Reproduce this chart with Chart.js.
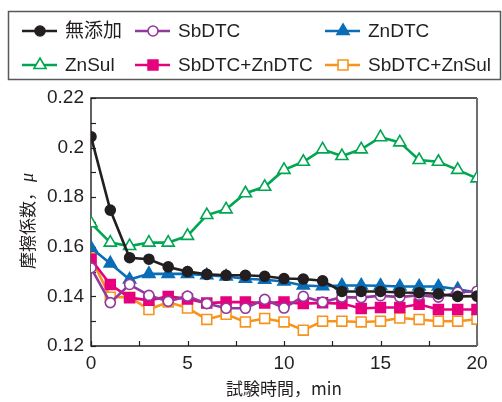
<!DOCTYPE html>
<html>
<head>
<meta charset="utf-8">
<script src="https://cdn.jsdelivr.net/npm/chart.js@4"></script>
<style>
  html,body{margin:0;padding:0;background:#fff;}
  #wrap{position:relative;width:502px;height:402px;}
</style>
</head>
<body>
<div id="wrap"><canvas id="fric"></canvas></div>
<script>
// ---- data ----
const minutes=[0,1,2,3,4,5,6,7,8,9,10,11,12,13,14,15,16,17,18,19,20];
const seriesNames=['無添加','SbDTC','ZnDTC','ZnSul','SbDTC+ZnDTC','SbDTC+ZnSul'];
const muNone=[0.2044,0.1748,0.1556,0.1550,0.1519,0.1500,0.1489,0.1485,0.1485,0.1481,0.1472,0.1470,0.1463,0.1420,0.1420,0.1420,0.1416,0.1415,0.1410,0.1400,0.1401];
const muSb=[0.1515,0.1375,0.1448,0.1404,0.1380,0.1401,0.1371,0.1352,0.1352,0.1388,0.1353,0.1400,0.1377,0.1397,0.1395,0.1403,0.1397,0.1405,0.1397,0.1417,0.1421];
const muZn=[0.1596,0.1533,0.1468,0.1491,0.1491,0.1491,0.1485,0.1480,0.1471,0.1467,0.1460,0.1444,0.1441,0.1444,0.1444,0.1443,0.1440,0.1440,0.1440,0.1429,0.1415];
const muZnSul=[0.1695,0.1617,0.1603,0.1617,0.1617,0.1644,0.1728,0.1751,0.1816,0.1842,0.1910,0.1943,0.1993,0.1966,0.1993,0.2042,0.2021,0.1950,0.1943,0.1910,0.1876];
const muSbZn=[0.1550,0.1448,0.1395,0.1384,0.1400,0.1390,0.1373,0.1377,0.1377,0.1373,0.1377,0.1371,0.1374,0.1371,0.1351,0.1355,0.1355,0.1368,0.1347,0.1347,0.1347];
const muSbZnSul=[0.1555,0.1397,0.1397,0.1347,0.1377,0.1353,0.1307,0.1328,0.1297,0.1311,0.1297,0.1264,0.1300,0.1300,0.1297,0.1300,0.1313,0.1307,0.1300,0.1300,0.1308];
const xTicks=[0,5,10,15,20];
const yTicks=[0.12,0.14,0.16,0.18,0.2,0.22];

const C_BLACK='#231f20',C_PURPLE='#93399b',C_BLUE='#0a6db7',C_GREEN='#00a651',C_PINK='#e6007e',C_ORANGE='#f7941d';
const LATIN='"Liberation Sans", Arial, "Noto Sans CJK JP"';
const CJK='"Noto Sans CJK JP", "Liberation Sans"';

function ds(label,data,color,style,filled,r){
  return {label,data:data.map((v,i)=>({x:minutes[i],y:v})),borderColor:color,borderWidth:2.6,
    pointStyle:style,pointRadius:r,pointHoverRadius:r,pointBorderWidth:1.6,pointBorderColor:color,
    pointBackgroundColor:filled?color:'#fff',tension:0,fill:false};
}

// frame, inward ticks, titles and legend
const decor={
  id:'decor',
  beforeDatasetsDraw(chart){
    const {ctx,chartArea:a,scales:{x,y}}=chart;
    ctx.save();
    ctx.strokeStyle=C_BLACK;ctx.lineWidth=1.2;
    for(let v=0.12;v<=0.2201;v+=0.01){
      const py=Math.round(y.getPixelForValue(v))+0.5;
      ctx.beginPath();ctx.moveTo(a.left,py);ctx.lineTo(a.left+5,py);ctx.stroke();
    }
    for(let v=0;v<=20;v+=2.5){
      const px=Math.round(x.getPixelForValue(v))+0.5;
      ctx.beginPath();ctx.moveTo(px,a.bottom);ctx.lineTo(px,a.bottom-5);ctx.stroke();
    }
    ctx.lineWidth=1.4;
    ctx.beginPath();ctx.moveTo(a.right,a.top);ctx.lineTo(a.left,a.top);ctx.lineTo(a.left,a.bottom);ctx.lineTo(a.right,a.bottom);ctx.stroke();
    ctx.strokeStyle='#6d6e71';ctx.lineWidth=2;
    ctx.beginPath();ctx.moveTo(a.right,a.top);ctx.lineTo(a.right,a.bottom);ctx.stroke();
    ctx.restore();
  },
  afterDraw(chart){
    const {ctx,chartArea:a}=chart;
    ctx.save();
    ctx.fillStyle=C_BLACK;
    // x title
    ctx.font='17px '+CJK;ctx.textAlign='center';ctx.textBaseline='middle';
    ctx.fillText('試験時間，min',(a.left+a.right)/2,389);
    // y title, mu in italic
    ctx.translate(28,(a.top+a.bottom)/2);ctx.rotate(-Math.PI/2);
    const t1='摩擦係数，',t2='μ';
    ctx.font='17px '+CJK;const w1=ctx.measureText(t1).width;
    ctx.font='italic 18px "Liberation Serif", serif';const w2=ctx.measureText(t2).width;
    const sx=-(w1+w2)/2;
    ctx.textAlign='left';
    ctx.font='17px '+CJK;ctx.fillText(t1,sx,0);
    ctx.font='italic 18px "Liberation Serif", serif';ctx.fillText(t2,sx+w1+2,0);
    ctx.restore();

    // legend box
    ctx.save();
    ctx.strokeStyle='#58595b';ctx.lineWidth=1.5;
    ctx.strokeRect(8.5,11.5,492,68);
    const cols=[22,135,325],rows=[31,65];
    chart.data.datasets.forEach((d,i)=>{
      const lx=cols[i%3],ly=rows[Math.floor(i/3)];
      ctx.strokeStyle=d.borderColor;ctx.lineWidth=2.6;
      ctx.beginPath();ctx.moveTo(lx,ly);ctx.lineTo(lx+35,ly);ctx.stroke();
      ctx.lineWidth=d.pointBorderWidth;ctx.fillStyle=d.pointBackgroundColor;ctx.strokeStyle=d.pointBorderColor;
      Chart.helpers.drawPoint(ctx,{pointStyle:d.pointStyle,radius:d.pointRadius,borderWidth:d.pointBorderWidth,rotation:0},lx+18,ly);
      ctx.fillStyle=C_BLACK;ctx.font='19px '+LATIN;ctx.textAlign='left';ctx.textBaseline='middle';
      ctx.fillText(d.label,lx+43,ly+1);
    });
    ctx.restore();
  }
};

new Chart(document.getElementById('fric'),{
  type:'line',
  data:{datasets:[
    ds(seriesNames[0],muNone,C_BLACK,'circle',true,5),
    ds(seriesNames[1],muSb,C_PURPLE,'circle',false,5),
    ds(seriesNames[2],muZn,C_BLUE,'triangle',true,7),
    ds(seriesNames[3],muZnSul,C_GREEN,'triangle',false,7),
    ds(seriesNames[4],muSbZn,C_PINK,'rect',true,7),
    ds(seriesNames[5],muSbZnSul,C_ORANGE,'rect',false,7)
  ]},
  options:{
    responsive:true,maintainAspectRatio:false,animation:false,
    layout:{padding:{top:98,right:25,left:0,bottom:0}},
    plugins:{legend:{display:false},tooltip:{enabled:false}},
    scales:{
      x:{type:'linear',min:0,max:20,
        afterFit:s=>{s.height=56;},
        afterBuildTicks:s=>{s.ticks=xTicks.map(v=>({value:v}));},
        grid:{display:false,drawTicks:false},border:{display:false},
        ticks:{color:C_BLACK,padding:6,maxRotation:0,font:{family:LATIN,size:19},callback:v=>String(v)}},
      y:{type:'linear',min:0.12,max:0.22,
        afterFit:s=>{s.width=91;},
        afterBuildTicks:s=>{s.ticks=yTicks.map(v=>({value:v}));},
        grid:{display:false,drawTicks:false},border:{display:false},
        ticks:{color:C_BLACK,padding:7,font:{family:LATIN,size:19},callback:v=>String(Number(v.toFixed(2)))}}
    }
  },
  plugins:[decor]
});
</script>
</body>
</html>
